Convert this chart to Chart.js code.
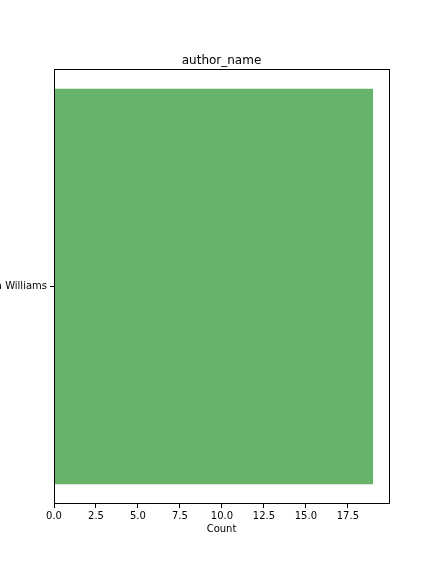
<!DOCTYPE html>
<html><head><meta charset="utf-8">
<script src="https://cdn.jsdelivr.net/npm/chart.js@4"></script>
<style>html,body{margin:0;padding:0;background:#fff}#wrap{width:432px;height:576px}</style>
</head><body><div id="wrap"><canvas id="c" width="432" height="576"></canvas></div>
<script>
const categories = ["Vanessa Williams"];
const counts = [19];
const xTicks = [0, 2.5, 5, 7.5, 10, 12.5, 15, 17.5];
const chartTitle = "author_name";
const xTitle = "Count";

const FONT = "'DejaVu Sans', sans-serif";
const framePlugin = {
  id: 'frame',
  afterDraw(chart) {
    const {ctx, chartArea: a} = chart;
    ctx.save();
    ctx.strokeStyle = '#000'; ctx.lineWidth = 1;
    ctx.strokeRect(Math.round(a.left) + 0.5, Math.round(a.top) + 0.5, Math.round(a.right - a.left), Math.round(a.bottom - a.top) - 1);
    ctx.fillStyle = '#000';
    ctx.font = "12px " + FONT;
    ctx.textAlign = 'center'; ctx.textBaseline = 'alphabetic';
    ctx.fillText(chartTitle, (a.left + a.right) / 2, a.top - 5);
    ctx.restore();
  }
};

new Chart(document.getElementById('c'), {
  type: 'bar',
  data: {
    labels: categories,
    datasets: [{ data: counts, backgroundColor: '#67b36a', borderWidth: 0, barPercentage: 0.909, categoryPercentage: 1 }]
  },
  options: {
    indexAxis: 'y',
    responsive: false,
    animation: false,
    devicePixelRatio: 1,
    layout: { padding: { top: 69, right: 43, left: 0, bottom: 41 } },
    plugins: { legend: { display: false }, title: { display: false }, tooltip: { enabled: false } },
    scales: {
      x: {
        type: 'linear', min: 0, max: 19.95,
        afterBuildTicks(axis) { axis.ticks = xTicks.map(v => ({ value: v })); },
        afterFit(axis) { axis.height = 31; },
        border: { display: false },
        grid: { drawOnChartArea: false, drawTicks: true, tickLength: 4, tickColor: '#000', tickWidth: 1 },
        ticks: { color: '#000', font: { family: FONT, size: 10 }, padding: 2, maxRotation: 0, callback: v => Number(v).toFixed(1) },
        title: { display: true, text: xTitle, color: '#000', font: { family: FONT, size: 10 }, padding: { top: 2, bottom: 0 } }
      },
      y: {
        type: 'category',
        afterFit(axis) { axis.width = 54; },
        border: { display: false },
        grid: { drawOnChartArea: false, drawTicks: true, tickLength: 4, tickColor: '#000', tickWidth: 1, offset: false },
        ticks: { color: '#000', font: { family: FONT, size: 10 }, padding: 3, crossAlign: 'near' }
      }
    }
  },
  plugins: [framePlugin]
});
</script></body></html>
